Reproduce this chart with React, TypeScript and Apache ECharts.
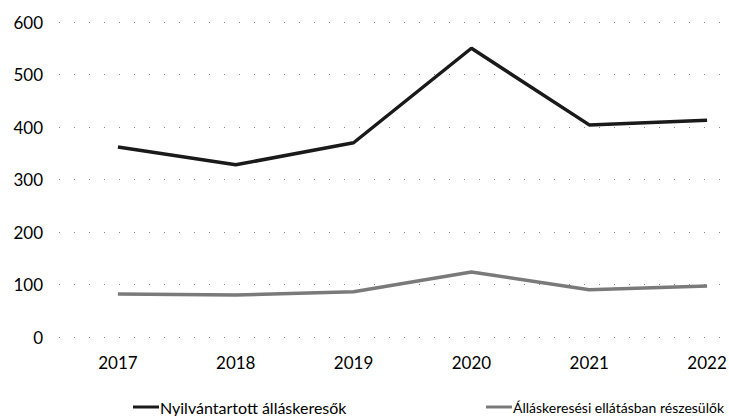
import React, { useEffect, useRef } from "react";
import * as echarts from "echarts";

const years = ["2017", "2018", "2019", "2020", "2021", "2022"];
const registered = [362, 328, 370, 550, 404, 413];
const benefits = [82, 80, 86, 124, 90, 97];
const seriesNames = ["Nyilvántartott álláskeresők", "Álláskeresési ellátásban részesülők"];

export default function App() {
  const ref = useRef<HTMLDivElement>(null);
  useEffect(() => {
    if (!ref.current) return;
    const chart = echarts.init(ref.current, null, { renderer: "svg" });
    const font = "Lato, 'Open Sans', sans-serif";
    const legendBase = {
      top: 394,
      itemWidth: 26,
      itemHeight: 3,
      icon: "rect",
    };
    chart.setOption({
      animation: false,
      backgroundColor: "#ffffff",
      grid: { left: 59, top: 22, width: 707, height: 315 },
      xAxis: {
        type: "category",
        data: years,
        boundaryGap: true,
        axisLine: { show: false },
        axisTick: { show: false },
        axisLabel: { color: "#000", fontSize: 17, fontFamily: font, margin: 17 },
      },
      yAxis: {
        type: "value",
        min: 0,
        max: 600,
        interval: 100,
        axisLine: { show: false },
        axisTick: { show: false },
        axisLabel: { color: "#000", fontSize: 17, fontFamily: font, margin: 16 },
        splitLine: { lineStyle: { color: "#888", width: 1, type: [1, 14] } },
      },
      legend: [
        {
          ...legendBase,
          left: 128,
          textStyle: { color: "#000", fontSize: 16, fontFamily: font, padding: [0, 0, 0, -4] },
          data: [seriesNames[0]],
        },
        {
          ...legendBase,
          top: 395,
          left: 481,
          textStyle: { color: "#000", fontSize: 14, fontFamily: font, padding: [0, 0, 0, -4] },
          data: [seriesNames[1]],
        },
      ],
      series: [
        {
          name: seriesNames[0],
          type: "line",
          data: registered,
          symbol: "none",
          lineStyle: { color: "#1a1a1a", width: 3.5 },
          itemStyle: { color: "#1a1a1a" },
        },
        {
          name: seriesNames[1],
          type: "line",
          data: benefits,
          symbol: "none",
          lineStyle: { color: "#7a7a7a", width: 3.5 },
          itemStyle: { color: "#7a7a7a" },
        },
      ],
    });
    return () => chart.dispose();
  }, []);
  return (
    <div style={{ position: "absolute", left: 0, top: 0, width: 729, height: 416, overflow: "hidden", background: "#fff" }}>
      <div ref={ref} style={{ width: 800, height: 416 }} />
    </div>
  );
}
